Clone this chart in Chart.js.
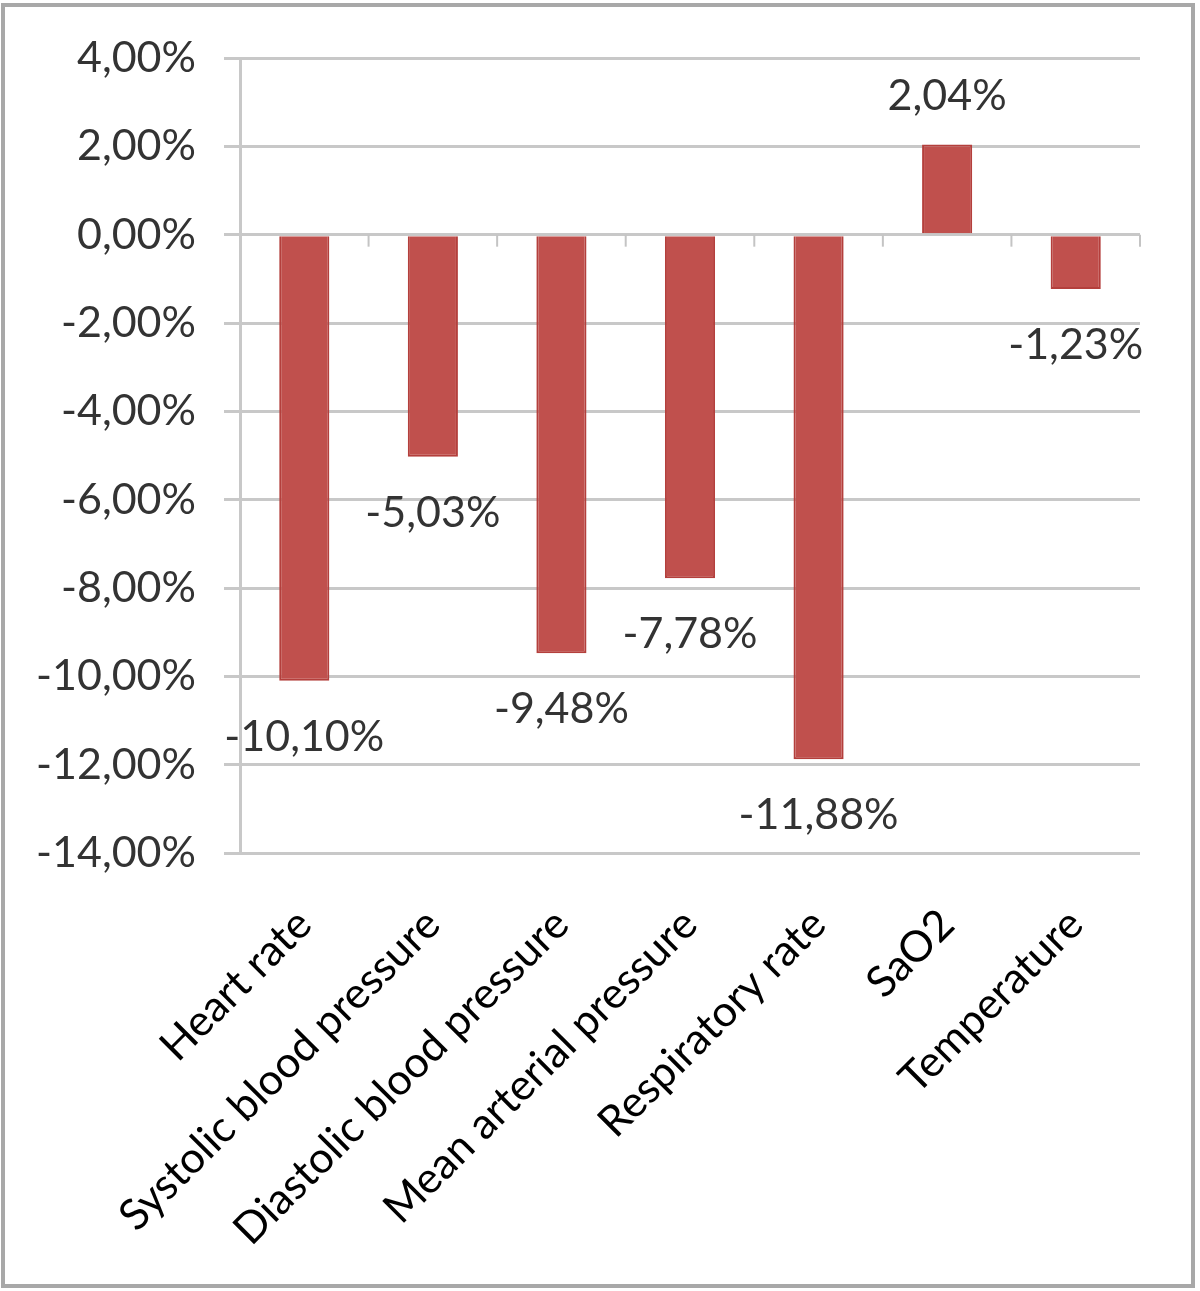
<!DOCTYPE html>
<html>
<head>
<meta charset="utf-8">
<script src="https://cdn.jsdelivr.net/npm/chart.js@4/dist/chart.umd.min.js"></script>
<style>
  html, body { margin: 0; padding: 0; background: #fff; }
  #wrap { position: relative; width: 1200px; height: 1291px; }
  #frame { position: absolute; left: 1px; top: 3px; width: 1194px; height: 1285px;
           box-sizing: border-box; border: 4px solid #a8a8a8; pointer-events: none; }
  canvas { position: absolute; left: 0; top: 0; }
</style>
</head>
<body>
<div id="wrap">
  <canvas id="chart" width="1200" height="1291"></canvas>
  <div id="frame"></div>
</div>
<script>
/* 数据 */
const categories = ['Heart rate', 'Systolic blood pressure', 'Diastolic blood pressure',
    'Mean arterial pressure', 'Respiratory rate', 'SaO2', 'Temperature'];
const changes = [-10.10, -5.03, -9.48, -7.78, -11.88, 2.04, -1.23];
const yMin = -14, yMax = 4, yStep = 2;

const FONT = 'Lato, "Open Sans", sans-serif';
const FONT_SIZE = 43;

/** 百分比格式（逗号小数） */
function fmtPct(v) {
    return v.toFixed(2).replace('.', ',') + '%';
}

/** 0 线上的类别刻度 */
const zeroTicks = {
    id: 'zeroTicks',
    afterDraw(chart) {
        const { ctx, scales: { x, y } } = chart;
        const y0 = y.getPixelForValue(0);
        ctx.save();
        ctx.strokeStyle = '#c4c4c4';
        ctx.lineWidth = 2;
        for (let i = 0; i < categories.length; i++) {
            const bx = i < categories.length - 1
                ? (x.getPixelForValue(i) + x.getPixelForValue(i + 1)) / 2
                : chart.chartArea.right;
            ctx.beginPath();
            ctx.moveTo(bx, y0);
            ctx.lineTo(bx, y0 + 12);
            ctx.stroke();
        }
        ctx.restore();
    }
};

/** 数据标签 */
const valueLabels = {
    id: 'valueLabels',
    afterDatasetsDraw(chart) {
        const { ctx } = chart;
        const meta = chart.getDatasetMeta(0);
        ctx.save();
        ctx.font = FONT_SIZE + 'px ' + FONT;
        ctx.fillStyle = '#333';
        ctx.textAlign = 'center';
        ctx.textBaseline = 'middle';
        meta.data.forEach((bar, i) => {
            const v = changes[i];
            const ty = v < 0 ? bar.y + 56 : bar.y - 48;
            ctx.fillText(fmtPct(v), bar.x, ty);
        });
        ctx.restore();
    }
};

new Chart(document.getElementById('chart'), {
    type: 'bar',
    data: {
        labels: categories,
        datasets: [{
            data: changes,
            backgroundColor: '#c0504d',
            borderColor: '#b43f3c',
            borderWidth: 2,
            barPercentage: 0.39,
            categoryPercentage: 1
        }]
    },
    options: {
        responsive: false,
        animation: false,
        layout: { padding: { top: 58, right: 60, left: 0, bottom: 0 } },
        plugins: {
            legend: { display: false },
            tooltip: { enabled: false }
        },
        scales: {
            x: {
                grid: { display: false },
                border: { display: false },
                ticks: {
                    color: '#000',
                    font: { family: FONT, size: FONT_SIZE },
                    minRotation: 45,
                    maxRotation: 45,
                    padding: 38,
                    autoSkip: false
                },
                afterFit(scale) { scale.height = 1291 - 853; }
            },
            y: {
                min: yMin,
                max: yMax,
                grid: { color: '#c8c8c8', lineWidth: 3, tickLength: 16 },
                border: { color: '#c8c8c8', width: 3 },
                ticks: {
                    stepSize: yStep,
                    color: '#333',
                    font: { family: FONT, size: FONT_SIZE },
                    padding: 28,
                    callback: v => fmtPct(v)
                },
                afterFit(scale) { scale.width = 240; }
            }
        }
    },
    plugins: [zeroTicks, valueLabels]
});
</script>
</body>
</html>
